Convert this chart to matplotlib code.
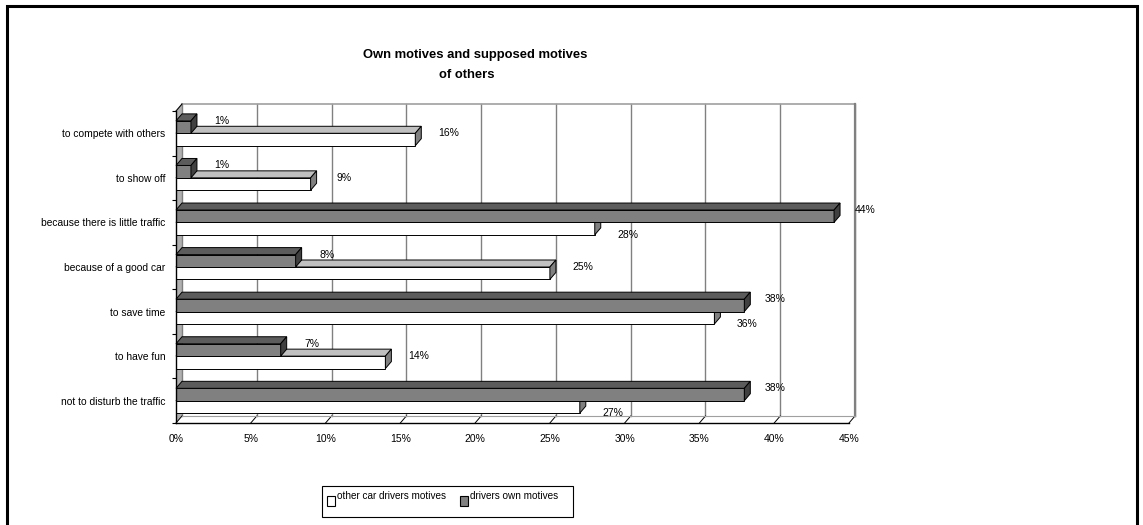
import matplotlib
matplotlib.use("Agg")
import matplotlib.pyplot as plt
from matplotlib.patches import Polygon, Rectangle

plt.rcParams['font.family'] = ['Liberation Sans', 'DejaVu Sans']

# motives, listed top to bottom
motives = ["to compete with others", "to show off", "because there is little traffic",
           "because of a good car", "to save time", "to have fun",
           "not to disturb the traffic"]
own_motives = [1, 1, 44, 8, 38, 7, 38]
others_motives = [16, 9, 28, 25, 36, 14, 27]
x_ticks = [0, 5, 10, 15, 20, 25, 30, 35, 40, 45]

W, H = 1143, 525
fig = plt.figure(figsize=(W / 100, H / 100), dpi=100)

# front plane of the 3d box, in pixels
left, right, top, bottom = 176, 849, 111, 423
ax = fig.add_axes([left / W, 1 - bottom / H, (right - left) / W, (bottom - top) / H])
n = len(motives)
xmax = x_ticks[-1]
ax.set_xlim(0, xmax)
ax.set_ylim(0, n)

px_x = (right - left) / xmax          # pixels per percent
px_y = (bottom - top) / n             # pixels per category
dx = 6 / px_x                         # depth offset in data units
dy = 7 / px_y
bar_h = 12.4 / px_y


def face(pts, fc, ec='black', lw=0.7, z=2):
    ax.add_patch(Polygon(pts, closed=True, fc=fc, ec=ec, lw=lw, zorder=z,
                         clip_on=False, joinstyle='miter'))


def bar3d(y0, v, front, topc, side, z):
    y1 = y0 + bar_h
    face([(0, y0), (v, y0), (v, y1), (0, y1)], front, z=z)
    face([(0, y1), (v, y1), (v + dx, y1 + dy), (dx, y1 + dy)], topc, z=z)
    face([(v, y0), (v + dx, y0 + dy), (v + dx, y1 + dy), (v, y1)], side, z=z)


# walls and floor
face([(0, 0), (dx, dy), (dx, n + dy), (0, n)], '#b0b0b0', ec='none', z=0)
for t in x_ticks:
    ax.plot([t + dx, t + dx], [dy, n + dy], color='#808080', lw=1.0, zorder=1,
            clip_on=False)
    ax.plot([t, t + dx], [0, dy], color='black', lw=0.7, zorder=1, clip_on=False)
ax.plot([dx, xmax + dx], [n + dy, n + dy], color='#a0a0a0', lw=1.2, zorder=1, clip_on=False)
ax.plot([xmax + dx, xmax + dx], [dy, n + dy], color='#808080', lw=1.6, zorder=1, clip_on=False)
ax.plot([dx, xmax + dx], [dy, dy], color='#a0a0a0', lw=0.8, zorder=1, clip_on=False)
ax.plot([0, dx], [n, n + dy], color='black', lw=0.8, zorder=1, clip_on=False)

# bars: white (others) below, grey (own) above, drawn from the bottom row up
for k in range(n - 1, -1, -1):
    i = n - 1 - k
    mid = i + 0.5
    bar3d(mid - bar_h, others_motives[k], 'white', '#c0c0c0', '#808080', z=3 + 2 * k)
    bar3d(mid, own_motives[k], '#808080', '#5c5c5c', '#404040', z=4 + 2 * k)

# value labels
for k in range(n):
    i = n - 1 - k
    mid = i + 0.5
    own, oth = own_motives[k], others_motives[k]
    ax.annotate(f"{own}%", (own, mid + bar_h), xytext=(31, 0), textcoords='offset pixels',
                ha='center', va='center', fontsize=7.5, zorder=30, annotation_clip=False)
    ly = mid if oth > own else mid - bar_h
    ax.annotate(f"{oth}%", (oth, ly), xytext=(33, 0), textcoords='offset pixels',
                ha='center', va='center', fontsize=7.5, zorder=30, annotation_clip=False)

# axes
for s in ['top', 'right']:
    ax.spines[s].set_visible(False)
ax.spines['left'].set_linewidth(1.0)
ax.spines['bottom'].set_linewidth(1.0)
ax.spines['left'].set_zorder(40)
ax.spines['bottom'].set_zorder(40)
ax.patch.set_visible(False)
ax.set_xticks(x_ticks)
ax.set_xticklabels([f"{t}%" for t in x_ticks], fontsize=7.5)
ax.tick_params(axis='x', length=0, pad=8)
ax.set_yticks(range(n + 1))
ax.set_yticklabels([])
ax.tick_params(axis='y', which='major', length=3, width=0.8)
ax.set_yticks([n - 1 - k + 0.5 for k in range(n)], minor=True)
ax.set_yticklabels(motives, minor=True, fontsize=7.4)
ax.tick_params(axis='y', which='minor', length=0, pad=7.5)

# title
fig.text(475 / W, 1 - 55 / H, "Own motives and supposed motives", ha='center', va='center',
         fontsize=9.4, fontweight='bold')
fig.text(467 / W, 1 - 75 / H, "of others", ha='center', va='center',
         fontsize=9.4, fontweight='bold')


# legend box
def fig_rect(x, y, w, h, **kw):
    fig.add_artist(Rectangle((x / W, 1 - (y + h) / H), w / W, h / H,
                             transform=fig.transFigure, **kw))


fig_rect(322, 486, 251, 31, fc='white', ec='black', lw=0.8)
fig_rect(327, 496, 8, 10, fc='white', ec='black', lw=0.8)
fig.text(337 / W, 1 - 496 / H, "other car drivers motives", fontsize=7.2, va='center')
fig_rect(460, 496, 8, 10, fc='#808080', ec='black', lw=0.8)
fig.text(470 / W, 1 - 496 / H, "drivers own motives", fontsize=7.2, va='center')

# outer frame
fig_rect(7, 6, 1130, 540, fc='none', ec='black', lw=2.2)

fig.savefig("out.png", dpi=100)
